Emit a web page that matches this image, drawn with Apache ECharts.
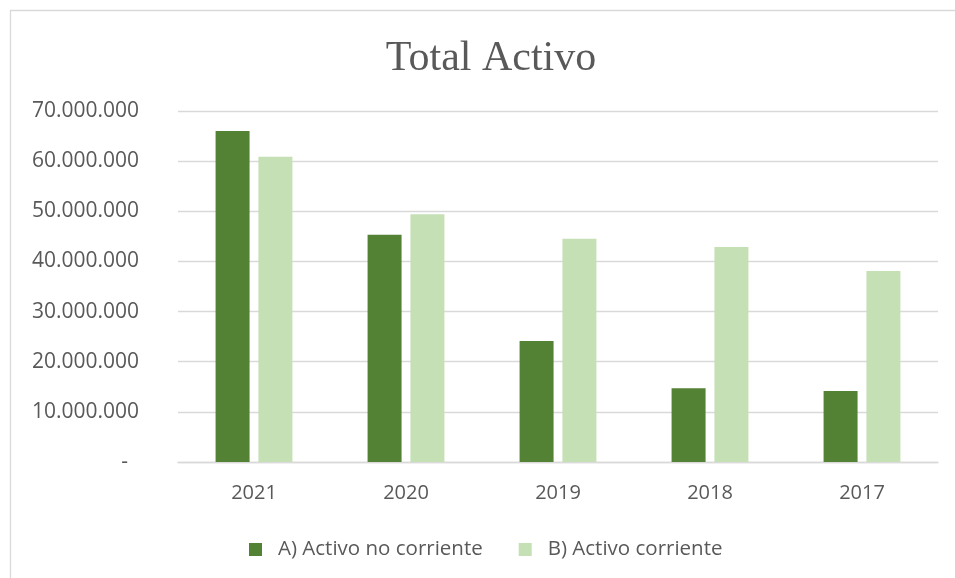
<!DOCTYPE html>
<html>
<head>
<meta charset="utf-8">
<script src="https://cdn.jsdelivr.net/npm/echarts@6/dist/echarts.min.js"></script>
<style>html,body{margin:0;padding:0;background:#fff}#c{width:955px;height:578px}</style>
</head>
<body>
<div id="c"></div>
<script>
const categories = ['2021', '2020', '2019', '2018', '2017'];
const seriesNames = ['A) Activo no corriente', 'B) Activo corriente'];
const activoNoCorriente = [66000000, 45300000, 24150000, 14700000, 14150000];
const activoCorriente = [60900000, 49400000, 44500000, 42900000, 38100000];
const yTicks = [0, 10000000, 20000000, 30000000, 40000000, 50000000, 60000000, 70000000];

const fmt = v => {
  if (v === 0) return '{d|-}';
  return String(Math.round(v)).replace(/\B(?=(\d{3})+(?!\d))/g, '.');
};

const chart = echarts.init(document.getElementById('c'), null, {renderer: 'canvas'});
const textColor = '#595959';
const font = 'Open Sans';
chart.setOption({
  animation: false,
  backgroundColor: '#fff',
  graphic: [{
    type: 'rect', left: 8, top: 8, shape: {width: 1000, height: 1000},
    style: {fill: 'none', stroke: '#d9d9d9', lineWidth: 1.3}, silent: true, z: -1
  }],
  title: {
    text: 'Total Activo', left: 486, top: 33, textAlign: 'center',
    textStyle: {fontFamily: 'Liberation Serif', fontSize: 42, fontWeight: 'normal', color: textColor}
  },
  grid: {left: 178, right: 17, top: 111, bottom: 116, containLabel: false},
  legend: {
    data: seriesNames, bottom: 13, left: 244,
    itemWidth: 13, itemHeight: 13, itemGap: 36, icon: 'rect',
    textStyle: {fontFamily: font, fontSize: 20.5, color: textColor, padding: [0, 0, 0, 11]}
  },
  xAxis: {
    type: 'category', data: categories,
    axisLine: {lineStyle: {color: '#d9d9d9', width: 1.3}},
    axisTick: {show: false},
    axisLabel: {fontFamily: font, fontSize: 20, color: textColor, margin: 21}
  },
  yAxis: {
    type: 'value', min: yTicks[0], max: yTicks[yTicks.length - 1], interval: 10000000,
    axisLine: {show: false}, axisTick: {show: false},
    splitLine: {lineStyle: {color: '#d9d9d9', width: 1.3}},
    axisLabel: {
      fontFamily: font, fontSize: 21, color: textColor, margin: 39, formatter: fmt,
      rich: {d: {fontFamily: font, fontSize: 21, color: textColor, padding: [0, 11, 0, 0]}}
    }
  },
  series: [
    {name: seriesNames[0], type: 'bar', data: activoNoCorriente, barWidth: 34, barGap: '26%',
     itemStyle: {color: '#548235'}},
    {name: seriesNames[1], type: 'bar', data: activoCorriente, barWidth: 34,
     itemStyle: {color: '#c5e0b4'}}
  ]
});
</script>
</body>
</html>
